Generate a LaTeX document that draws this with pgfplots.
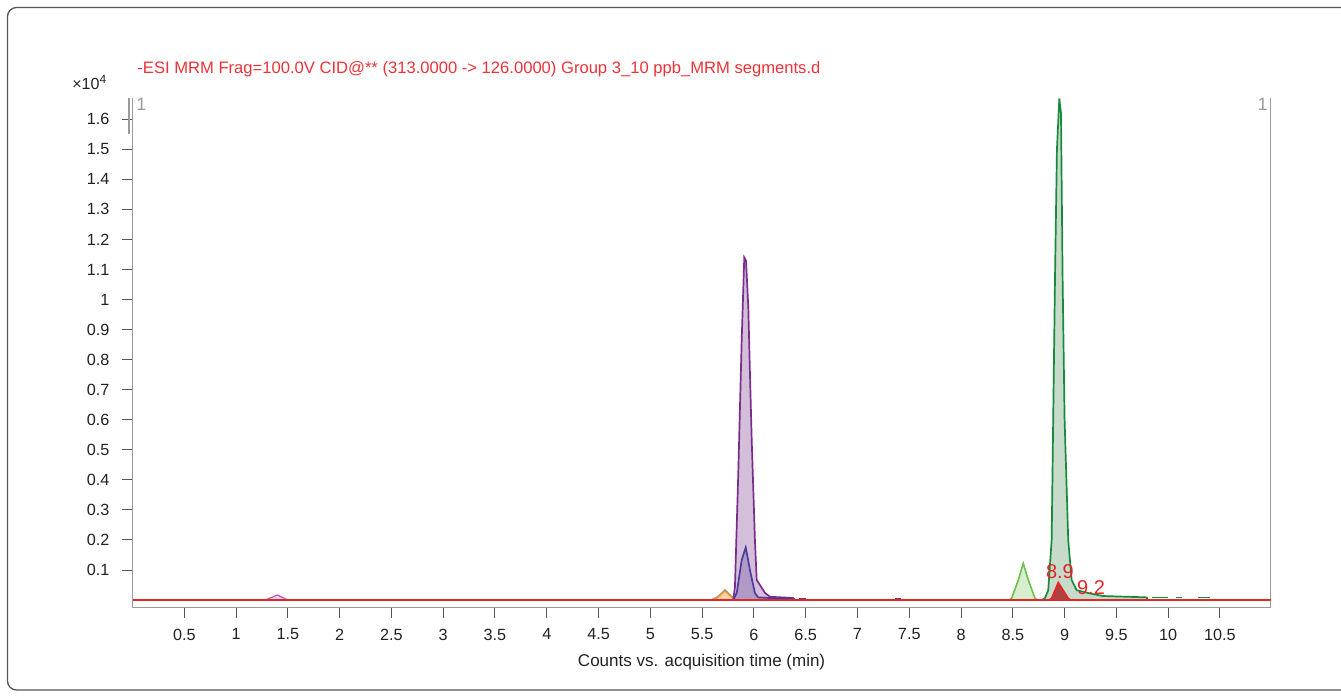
\documentclass[border=0pt]{standalone}
\usepackage{fontspec}
\setmainfont{Liberation Sans}
\usepackage{pgfplots}
\pgfplotsset{compat=1.18}

\definecolor{framegray}{HTML}{555555}
\definecolor{axisgray}{HTML}{9A9A9A}
\definecolor{tickgray}{HTML}{555555}
\definecolor{labelblack}{HTML}{222222}
\definecolor{titlered}{HTML}{EC3237}
\definecolor{basered}{HTML}{E32626}
\definecolor{purpleln}{HTML}{7B2D8E}
\definecolor{purplefl}{HTML}{D3BFDA}
\definecolor{blueln}{HTML}{4B3B9B}
\definecolor{bluefl}{HTML}{B09AC6}
\definecolor{greenln}{HTML}{178A3C}
\definecolor{greenfl}{HTML}{C6DBC9}
\definecolor{lgreenln}{HTML}{6CBF4A}
\definecolor{lgreenfl}{HTML}{D9EECF}
\definecolor{orangeln}{HTML}{F28C1E}
\definecolor{orangefl}{HTML}{FBD3A6}
\definecolor{lblueln}{HTML}{7FB2E0}
\definecolor{magentaln}{HTML}{C04FC0}
\definecolor{redfl}{HTML}{B0413E}

\begin{document}
\begin{tikzpicture}
\useasboundingbox (0,0) rectangle (670.5pt,-349pt);
\begin{scope}[x=0.5pt,y=-0.5pt]
  \draw[framegray, line width=0.65pt, rounded corners=4.5pt] (7.5,7.5) rectangle (1400,690);
  \node[anchor=base west, inner sep=0pt, text=titlered, font=\fontsize{8.3}{10}\selectfont]
    at (137,73.3) {-ESI MRM Frag=100.0V CID@** (313.0000 -> 126.0000) Group 3\_10 ppb\_MRM segments.d};
  \node[anchor=base west, inner sep=0pt, text=labelblack, font=\fontsize{8}{9}\selectfont]
    at (72,89.3) {×10\textsuperscript{4}};
  \node[anchor=north west, inner sep=0pt, text=axisgray, font=\fontsize{9}{10}\selectfont] at (136,98) {1};
  \node[anchor=north east, inner sep=0pt, text=axisgray, font=\fontsize{9}{10}\selectfont] at (1268,98) {1};
\end{scope}

\begin{axis}[
  at={(66.25pt,-303.85pt)}, anchor=south west,
  scale only axis, width=569.1pt, height=254.7pt,
  xmin=0, xmax=10.99, ymin=-0.0254, ymax=1.6697,
  axis line style={draw=none},
  clip=false,
  tick pos=left, tick align=outside,
  major tick length=5pt,
  tick style={color=tickgray, line width=0.5pt},
  xtick={0.5,1,1.5,2,2.5,3,3.5,4,4.5,5,5.5,6,6.5,7,7.5,8,8.5,9,9.5,10,10.5},
  ytick={0.1,0.2,0.3,0.4,0.5,0.6,0.7,0.8,0.9,1,1.1,1.2,1.3,1.4,1.5,1.6},
  scaled y ticks=false,
  /pgf/number format/assume math mode=true,
  ticklabel style={font=\fontsize{8.1}{9}\selectfont, text=labelblack},
  yticklabel style={xshift=-3pt},
  xticklabel style={yshift=-2pt},
  xlabel={Counts vs. acquisition time (min)},
  xlabel style={font=\fontsize{8.5}{10}\selectfont, text=labelblack,
    at={(rel axis cs:0.5,0)}, anchor=base, yshift=-29.3pt},
]
% axis frame
\draw[axisgray, line width=0.75pt] (rel axis cs:0,0) -- (rel axis cs:1,0);
\draw[axisgray, line width=0.75pt] (rel axis cs:0,0) -- (rel axis cs:0,1);
\draw[axisgray, line width=0.75pt] (rel axis cs:1,0) -- (rel axis cs:1,1);
\draw[axisgray, line width=0.65pt] ([xshift=-1.7pt]rel axis cs:0,1) -- ([xshift=-1.7pt]rel axis cs:0,0.93);

% 1.4 min
\addplot[magentaln, line width=0.6pt, fill=magentaln!25] coordinates {
  (1.25,0) (1.296,0.002) (1.398,0.017) (1.489,0.002) (1.55,0) };

% 5.7 min
\addplot[lblueln, line width=0.9pt] coordinates {
  (5.60,0.003) (5.65,0.010) (5.721,0.034) (5.79,0.010) (5.83,0.003) };
\addplot[orangeln, line width=0.7pt, fill=orangefl] coordinates {
  (5.60,0) (5.624,0.002) (5.67,0.015) (5.721,0.031) (5.77,0.015) (5.817,0.002) (5.85,0) };

% 5.9 min
\addplot[purpleln, line width=0.85pt, fill=purplefl] coordinates {
  (5.78,0) (5.801,0.002) (5.817,0.044) (5.849,0.42) (5.882,0.863) (5.907,1.14)
  (5.924,1.129) (5.946,0.974) (5.962,0.753) (5.979,0.531) (6.010,0.199)
  (6.027,0.067) (6.107,0.024) (6.155,0.011) (6.377,0.007) (6.40,0) };
\addplot[blueln, line width=0.85pt, fill=bluefl] coordinates {
  (5.80,0) (5.834,0.023) (5.882,0.133) (5.921,0.175) (5.962,0.100)
  (6.010,0.023) (6.042,0.009) (6.20,0.006) (6.35,0.006) (6.40,0) };
\addplot[purpleln, line width=0.8pt] coordinates {(6.44,0.004) (6.50,0.004)};
\addplot[purpleln, line width=0.8pt] coordinates {(7.36,0.004) (7.42,0.004)};

% 8.6 min
\addplot[lgreenln, line width=0.8pt, fill=lgreenfl] coordinates {
  (8.46,0) (8.489,0.006) (8.553,0.067) (8.601,0.122) (8.649,0.067) (8.714,0.006) (8.74,0) };

% 8.95 min
\addplot[greenln, line width=0.85pt, fill=greenfl] coordinates {
  (8.78,0) (8.811,0.007) (8.842,0.033) (8.875,0.200) (8.907,1.065) (8.926,1.50)
  (8.949,1.669) (8.965,1.62) (8.981,1.065) (9.0,0.60) (9.035,0.200) (9.068,0.067)
  (9.116,0.033) (9.245,0.022) (9.370,0.0135) (9.793,0.009) (9.80,0) };
\addplot[greenln, line width=0.8pt] coordinates {(9.84,0.008) (10.0,0.008)};
\addplot[greenln, line width=0.8pt] coordinates {(10.08,0.008) (10.13,0.008)};
\addplot[greenln, line width=0.8pt] coordinates {(10.29,0.008) (10.40,0.008)};

% baseline
\addplot[basered, line width=1.25pt] coordinates {(0,0) (10.99,0)};

% red peak
\addplot[basered, line width=0.9pt, fill=redfl] coordinates {
  (8.85,0) (8.875,0.005) (8.939,0.058) (9.035,0.005) (9.06,0) };

\node[text=basered, font=\fontsize{10}{12}\selectfont] at (axis cs:8.955,0.095) {8.9};
\node[text=basered, font=\fontsize{10}{12}\selectfont] at (axis cs:9.255,0.040) {9.2};
\end{axis}
\end{tikzpicture}
\end{document}
